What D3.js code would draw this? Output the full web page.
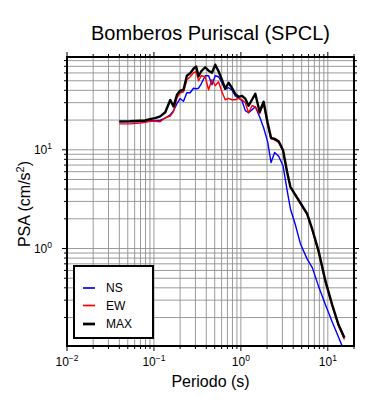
<!DOCTYPE html>
<html>
<head>
<meta charset="utf-8">
<script src="https://cdn.jsdelivr.net/npm/d3@7"></script>
<style>
  body { margin: 0; background: #fff; }
  svg { display: block; font-family: "Liberation Sans", Arial, sans-serif; }
</style>
</head>
<body>
<div id="chart"></div>
<script>
var title = "Bomberos Puriscal (SPCL)";
var xLabel = "Periodo (s)";
var seriesNames = ["NS", "EW", "MAX"];
var seriesColors = ["#0000ff", "#ff0000", "#000000"];

// periods (s)
var periods = [0.040, 0.053, 0.069, 0.079, 0.090, 0.103, 0.118, 0.135, 0.154, 0.168,
               0.184, 0.200, 0.219, 0.239, 0.261, 0.285, 0.306, 0.326, 0.350, 0.389,
               0.425, 0.465, 0.507, 0.553, 0.605, 0.660, 0.721, 0.788, 0.861, 0.941,
               1.030, 1.124, 1.227, 1.342, 1.465, 1.642, 1.826, 2.030, 2.223, 2.444,
               2.718, 3.055, 3.397, 3.708, 4.233, 4.834, 5.774, 6.647, 7.858, 9.385,
               11.21, 13.25, 15.53];

// PSA (cm/s2)
var ns = [19.2, 19.2, 19.2, 19.45, 19.7, 19.7, 19.9, 20.9, 22.6, 24.9,
          29.3, 32.9, 31.0, 37.8, 37.8, 42.0, 41.5, 42.0, 46.6, 56.2,
          56.2, 45.6, 56.2, 54.9, 47.7, 41.0, 42.5, 40.5, 35.2, 33.6,
          31.4, 24.9, 23.7, 25.4, 27.3, 21.6, 16.7, 12.1, 7.43, 9.39,
          8.59, 6.88, 3.93, 2.53, 1.74, 1.12, 0.786, 0.637, 0.409, 0.269,
          0.181, 0.127, 0.090];

var ew = [18.3, 18.3, 18.6, 19.0, 19.45, 19.45, 19.2, 21.1, 21.9, 24.3,
          33.6, 37.8, 38.7, 51.2, 54.9, 60.3, 61.7, 50.0, 56.2, 54.9,
          40.5, 51.2, 44.5, 48.9, 38.7, 32.1, 33.2, 32.1, 32.1, 33.2,
          32.1, 29.9, 23.7, 27.9, 27.3, 23.2, 29.2, 17.9, 12.9, 12.6,
          11.8, 9.77, 5.99, 4.22, 3.42, 2.84, 2.19, 1.51, 0.905, 0.449,
          0.263, 0.165, 0.120];

var max = [19.4, 19.5, 19.7, 19.8, 20.4, 20.9, 21.8, 24.0, 31.9, 27.5,
           36.1, 39.6, 40.5, 56.2, 59.6, 66.2, 69.8, 55.6, 62.4, 68.5,
           63.2, 60.3, 72.7, 62.4, 51.2, 41.5, 47.7, 42.5, 36.9, 34.4,
           35.2, 32.9, 27.9, 32.1, 36.9, 24.3, 30.6, 18.8, 13.2, 12.9,
           12.2, 9.9, 6.0, 4.22, 3.5, 2.9, 2.25, 1.55, 0.93, 0.47,
           0.27, 0.17, 0.125];

var xDomain = [0.01, 20];
var yDomain = [0.103, 87];

var width = 390, height = 400;
var frame = {left: 67, right: 354, top: 57, bottom: 346};

var svg = d3.select("#chart").append("svg")
    .attr("width", width)
    .attr("height", height);

var x = d3.scaleLog().domain(xDomain).range([frame.left, frame.right]);
var y = d3.scaleLog().domain(yDomain).range([frame.bottom, frame.top]);

function isMajor(v){
    var l = Math.log10(v);
    return Math.abs(l - Math.round(l)) < 1e-6;
}

var xTicks = x.ticks().filter(function(v){ return v > xDomain[0] * 1.0001 && v < xDomain[1] * 0.9999; });
var yTicks = y.ticks().filter(function(v){ return v > yDomain[0] && v < yDomain[1]; });
var xAll = x.ticks();
var yAll = y.ticks();

// grid
var grid = svg.append("g").attr("stroke", "#8f8f8f").attr("stroke-width", 0.9);
grid.selectAll(".gx").data(xTicks).enter().append("line")
    .attr("x1", function(d){ return x(d); }).attr("x2", function(d){ return x(d); })
    .attr("y1", frame.top).attr("y2", frame.bottom);
grid.selectAll(".gy").data(yTicks).enter().append("line")
    .attr("y1", function(d){ return y(d); }).attr("y2", function(d){ return y(d); })
    .attr("x1", frame.left).attr("x2", frame.right);

// ticks on all four sides, pointing out
var ticks = svg.append("g").attr("stroke", "#000").attr("stroke-width", 1);
xAll.forEach(function(v){
    var len = isMajor(v) ? 5 : 3;
    ticks.append("line").attr("x1", x(v)).attr("x2", x(v)).attr("y1", frame.bottom).attr("y2", frame.bottom + len);
    ticks.append("line").attr("x1", x(v)).attr("x2", x(v)).attr("y1", frame.top).attr("y2", frame.top - len);
});
yAll.forEach(function(v){
    var len = isMajor(v) ? 5 : 3;
    ticks.append("line").attr("y1", y(v)).attr("y2", y(v)).attr("x1", frame.left).attr("x2", frame.left - len);
    ticks.append("line").attr("y1", y(v)).attr("y2", y(v)).attr("x1", frame.right).attr("x2", frame.right + len);
});

function powLabel(sel, v){
    var e = Math.round(Math.log10(v));
    sel.append("tspan").text("10");
    sel.append("tspan").attr("dy", -5).attr("font-size", 8.5)
        .text(e < 0 ? "\u2212" + (-e) : String(e));
}

xAll.filter(isMajor).forEach(function(v){
    var t = svg.append("text")
        .attr("x", x(v)).attr("y", 366)
        .attr("text-anchor", "middle")
        .attr("font-size", 12)
        .attr("fill", "#000");
    powLabel(t, v);
});
yAll.filter(isMajor).forEach(function(v){
    var t = svg.append("text")
        .attr("x", 52).attr("y", y(v) + 4.5)
        .attr("text-anchor", "end")
        .attr("font-size", 12)
        .attr("fill", "#000");
    powLabel(t, v);
});

// curves
svg.append("clipPath").attr("id", "clip").append("rect")
    .attr("x", frame.left).attr("y", frame.top)
    .attr("width", frame.right - frame.left).attr("height", frame.bottom - frame.top);

var line = d3.line()
    .x(function(d){ return x(d[0]); })
    .y(function(d){ return y(d[1]); });

var series = [ns, ew, max];
var widths = [1.4, 1.4, 2.4];
var curves = svg.append("g").attr("clip-path", "url(#clip)");
series.forEach(function(vals, i){
    curves.append("path")
        .datum(periods.map(function(p, j){ return [p, vals[j]]; }))
        .attr("fill", "none")
        .attr("stroke", seriesColors[i])
        .attr("stroke-width", widths[i])
        .attr("stroke-linejoin", "round")
        .attr("d", line);
});

// frame
svg.append("rect")
    .attr("x", frame.left).attr("y", frame.top)
    .attr("width", frame.right - frame.left).attr("height", frame.bottom - frame.top)
    .attr("fill", "none").attr("stroke", "#000").attr("stroke-width", 2);

// legend
var legend = svg.append("g");
legend.append("rect")
    .attr("x", 74).attr("y", 266).attr("width", 79).attr("height", 72)
    .attr("fill", "#fff").attr("stroke", "#000").attr("stroke-width", 2);
var legendY = [288, 305.5, 324];
seriesNames.forEach(function(name, i){
    legend.append("line")
        .attr("x1", 83).attr("x2", 95)
        .attr("y1", legendY[i]).attr("y2", legendY[i])
        .attr("stroke", seriesColors[i]).attr("stroke-width", widths[i] + 0.3);
    legend.append("text")
        .attr("x", 106).attr("y", legendY[i] + 4.3)
        .attr("font-size", 12)
        .text(name);
});

// titles
svg.append("text")
    .attr("x", (frame.left + frame.right) / 2).attr("y", 40)
    .attr("text-anchor", "middle").attr("font-size", 20)
    .text(title);
svg.append("text")
    .attr("x", (frame.left + frame.right) / 2).attr("y", 387)
    .attr("text-anchor", "middle").attr("font-size", 16)
    .text(xLabel);
var yl = svg.append("text")
    .attr("transform", "translate(30,204) rotate(-90)")
    .attr("text-anchor", "middle").attr("font-size", 16);
yl.append("tspan").text("PSA (cm/s");
yl.append("tspan").attr("dy", -6).attr("font-size", 11).text("2");
yl.append("tspan").attr("dy", 6).text(")");
</script>
</body>
</html>
